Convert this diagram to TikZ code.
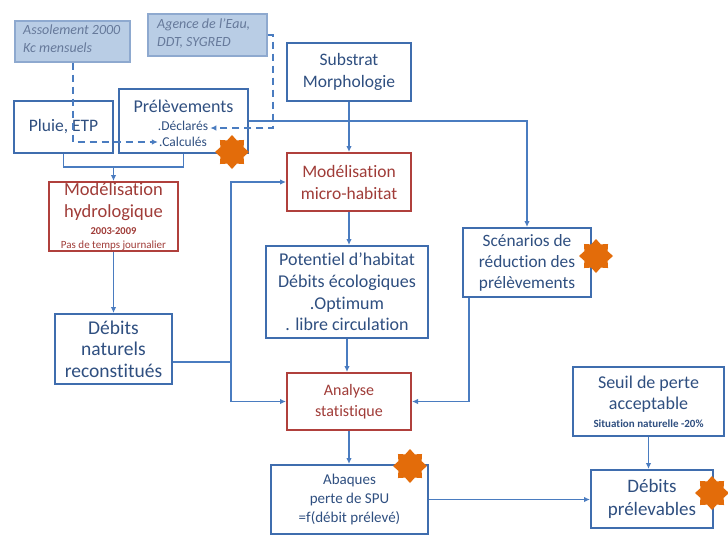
\documentclass[tikz,border=0pt]{standalone}
\usepackage{fontspec}
\setmainfont{Carlito}[Ligatures=NoCommon]
\usetikzlibrary{arrows.meta,shapes.geometric}
\definecolor{bordblue}{HTML}{3F6DAE}
\definecolor{lineblue}{HTML}{4A7CC0}
\definecolor{txtblue}{HTML}{2F4F80}
\definecolor{bordred}{HTML}{B0403C}
\definecolor{txtred}{HTML}{A03C38}
\definecolor{lightfill}{HTML}{B9CDE5}
\definecolor{lightbord}{HTML}{8EA9CF}
\definecolor{lighttxt}{HTML}{66799A}
\definecolor{starc}{HTML}{E36C0A}
\newcommand\fsz[2]{\fontsize{#1}{#2}\selectfont}
\begin{document}
\begin{tikzpicture}[x=1pt,y=-1pt,
 box/.style={draw=bordblue, line width=2pt, text=txtblue, align=center, inner sep=0pt},
 rbox/.style={draw=bordred, line width=2pt, text=txtred, align=center, inner sep=0pt},
 lbox/.style={draw=lightbord, fill=lightfill, line width=1.3pt, inner sep=0pt},
 ltext/.style={text=lighttxt, align=left, font=\fsz{14}{17.5}\itshape, inner sep=0pt, anchor=north west},
 ptext/.style={text=txtblue, inner sep=0pt},
 conn/.style={draw=lineblue, line width=1.9pt},
 arr/.style={conn, -{Latex[length=6pt,width=5.5pt]}},
 dconn/.style={draw=lineblue, line width=1.6pt, dash pattern=on 7pt off 5pt, -{Latex[length=6pt,width=5.5pt]}},
 burst/.style={star, star points=8, star point ratio=1.35, minimum size=34pt, inner sep=0pt, fill=starc, draw=none},
]
\fill[white] (0,0) rectangle (728,547);
\useasboundingbox (0,0) rectangle (728,547);

% light source boxes
\node[lbox, minimum width=115pt, minimum height=41pt] (asso) at (72.5,41.5) {};
\node[ltext] (assot) at (23,25) {Assolement 2000\\Kc mensuels};
\node[lbox, minimum width=119pt, minimum height=42pt] (agence) at (207.5,35) {};
\node[ltext] (agencet) at (157,19) {Agence de l’Eau,\\DDT, SYGRED};

% main boxes
\node[box, minimum width=99pt, minimum height=52pt, font=\fsz{17.5}{21}] (pluie) at (63.5,127) {Pluie, ETP};
\node[box, minimum width=129pt, minimum height=64pt] (prel) at (183.5,121) {};
\node[ptext, font=\fsz{18}{21}] (prelt) at (183.5,106) {Prélèvements};
\node[ptext, font=\fsz{13.5}{16}] (decl) at (183,126) {.Déclarés};
\node[ptext, font=\fsz{13.5}{16}] (calc) at (183,142) {.Calculés};

\node[box, minimum width=124pt, minimum height=58pt, font=\fsz{17.5}{22}] (subst) at (349,72) {Substrat\\Morphologie};
\node[rbox, minimum width=129pt, minimum height=69pt] (hydro) at (113.5,216.5) {};
\node[text=txtred, align=center, inner sep=0pt, font=\fsz{18.5}{22}] (hydrot) at (113.5,217) {Modélisation\\hydrologique\\[-5pt]{\fsz{10.5}{12}\bfseries 2003-2009}\\[-8pt]{\fsz{11}{12}Pas de temps journalier}};
\node[rbox, minimum width=124pt, minimum height=58pt, font=\fsz{17.5}{22}] (micro) at (349,182) {Modélisation\\micro-habitat};
\node[box, minimum width=162pt, minimum height=92pt, font=\fsz{18}{21.7}] (pot) at (347,292) {Potentiel d’habitat\\Débits écologiques\\.Optimum\\. libre circulation};
\node[box, minimum width=128pt, minimum height=69pt, font=\fsz{17.3}{21}] (scen) at (527,262.5) {Scénarios de\\réduction des\\prélèvements};
\node[box, minimum width=117pt, minimum height=70pt, font=\fsz{19.5}{21.5}] (natur) at (113.5,349) {Débits\\naturels\\reconstitués};
\node[rbox, minimum width=124pt, minimum height=57pt, font=\fsz{16}{21.5}] (anal) at (349,401.5) {Analyse\\statistique};
\node[box, minimum width=157pt, minimum height=69pt, font=\fsz{15}{19}] (abaq) at (349.5,499.5) {Abaques\\perte de SPU\\=f(débit prélevé)};
\node[box, minimum width=151pt, minimum height=69pt, font=\fsz{18}{21}] (seuil) at (648.5,401.5) {Seuil de perte\\acceptable\\[-3pt]{\fsz{11}{12}\bfseries Situation naturelle -20\%}};
\node[box, minimum width=122pt, minimum height=58pt, font=\fsz{19}{23}] (prelev) at (652,499) {Débits\\prélevables};

% connectors
\coordinate (j1) at (113.5,167);
\draw[conn] (pluie.south) |- (prel.south |- j1) -- (prel.south);
\draw[arr] (j1) -- (hydro.north);
\draw[arr] (hydro.south) -- (natur.north);
\coordinate (nv) at (231,362);
\draw[conn] (natur.east |- nv) -- (nv);
\draw[arr] (nv) |- (micro.west);
\draw[arr] (nv) |- (anal.west);
\draw[arr] (prel.east) -| (scen.north);
\draw[arr] (subst.south) -- (micro.north);
\draw[arr] (micro.south) -- (micro.south |- pot.north);
\draw[arr] (pot.south) -- (pot.south |- anal.north);
\draw[arr] ([xshift=-58pt]scen.south) |- (anal.east);
\draw[arr] (anal.south) -- (anal.south |- abaq.north);
\draw[arr] (abaq.east) -- (abaq.east -| prelev.west);
\draw[arr] (seuil.south) -- (seuil.south |- prelev.north);

% dashed
\coordinate (g1) at (273,35);
\coordinate (g2) at (273,128);
\draw[dconn, shorten >=2pt] (agence.east |- g1) -| (g2) -- (decl.east |- g2);
\draw[dconn, shorten >=1pt] ([xshift=0.5pt]asso.south) |- (calc.west);

% stars
\node[burst] (s1) at (232,152) {};
\node[burst] (s2) at (596,256) {};
\node[burst] (s3) at (410,466) {};
\node[burst] (s4) at (712,493) {};
\end{tikzpicture}
\end{document}
